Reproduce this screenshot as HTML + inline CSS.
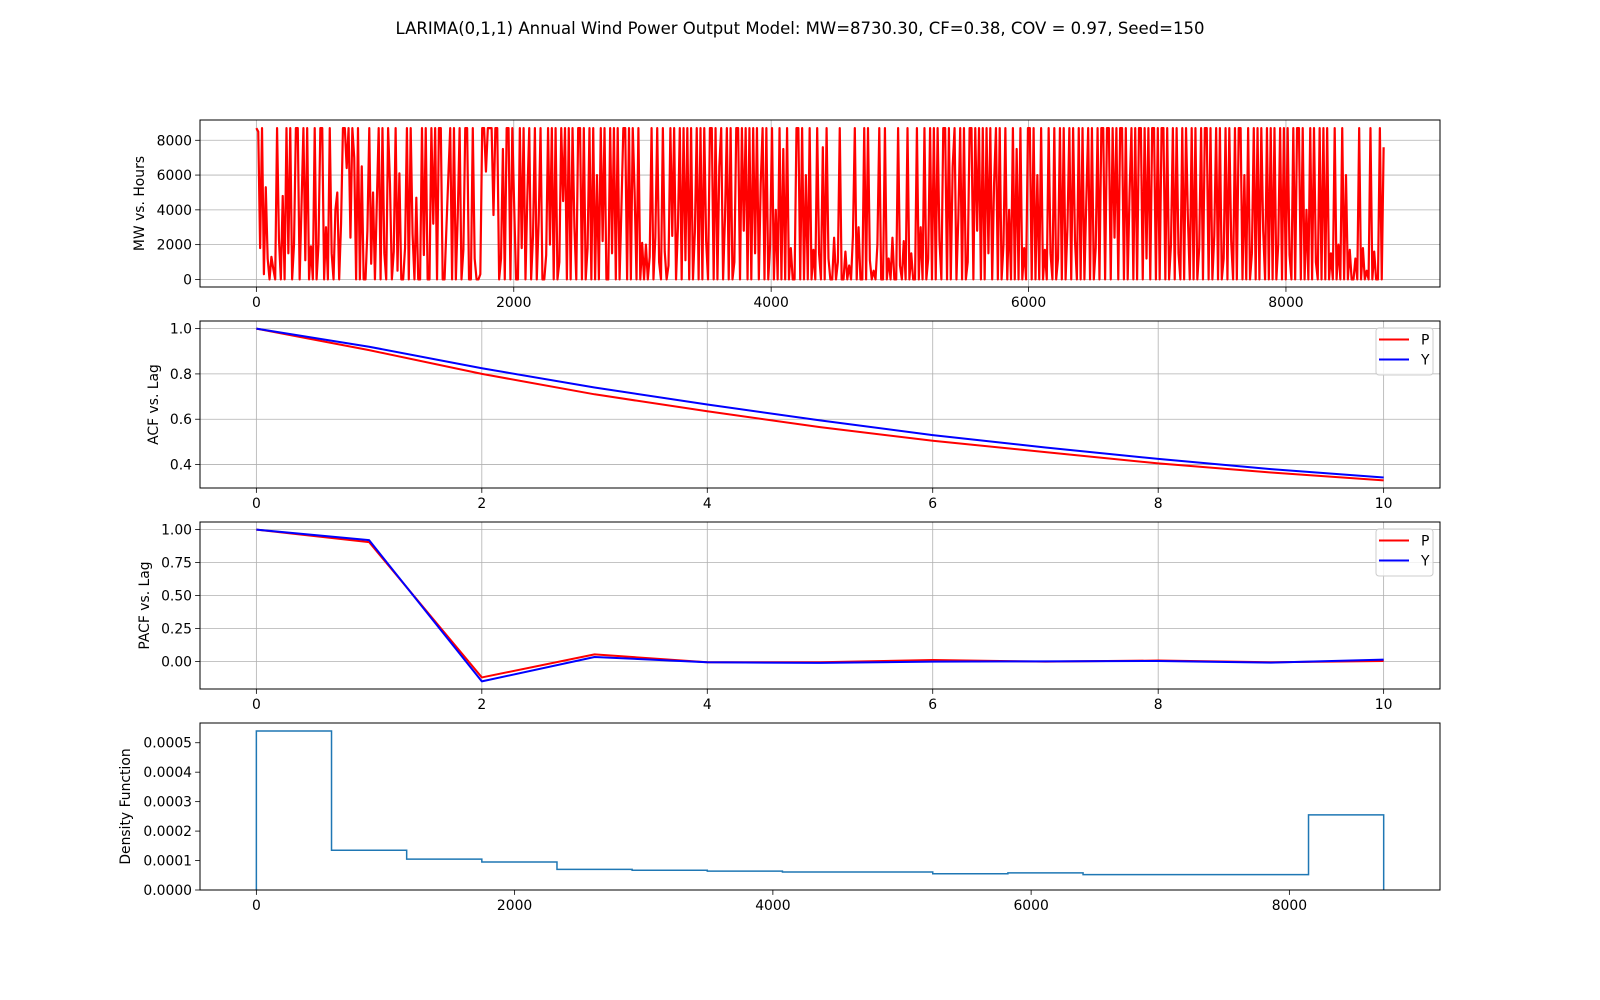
<!DOCTYPE html>
<html><head><meta charset="utf-8"><style>
html,body{margin:0;padding:0;background:#fff;}
svg{display:block;font-family:"DejaVu Sans","Liberation Sans",sans-serif;}
</style></head><body>
<svg id="fig" width="1600" height="1000" viewBox="0 0 1600 1000" xmlns="http://www.w3.org/2000/svg">
<rect width="1600" height="1000" fill="#fff"/>
<text x="800" y="34" text-anchor="middle" font-size="16.5" fill="#000">LARIMA(0,1,1) Annual Wind Power Output Model: MW=8730.30, CF=0.38, COV = 0.97, Seed=150</text>
</svg>
<script>
// ---- data ----
// hourly output, sampled, in units of 100 MW
const mwHundreds = [
87,85,18,87,3,53,12,0,13,6,0,87,23,0,48,0,87,15,87,0,20,87,87,0,43,87,11,87,0,19,
0,87,0,20,87,87,0,30,0,87,15,0,40,50,0,32,87,87,64,87,24,87,70,0,87,0,65,0,0,28,
87,9,50,0,44,87,0,87,15,0,87,55,0,16,87,5,61,0,0,18,87,0,87,26,0,47,0,0,87,14,
87,0,0,87,32,87,0,87,87,0,0,30,59,87,0,87,0,36,87,0,17,87,87,0,0,87,12,0,0,3,
87,87,62,87,87,87,37,87,87,0,12,75,0,87,87,0,87,42,0,0,87,18,87,0,48,87,0,25,87,0,
33,87,0,0,14,87,20,87,0,87,0,10,87,45,87,0,87,0,87,30,0,87,87,0,87,0,18,87,0,87,
0,60,0,87,22,87,0,0,87,15,87,0,87,0,42,87,87,0,87,0,87,50,0,87,0,21,0,20,0,13,
87,0,24,87,10,0,87,16,0,8,87,25,87,0,30,87,0,87,11,87,0,87,0,27,87,0,87,0,87,22,
0,87,87,0,87,0,65,87,0,35,87,0,87,0,10,87,87,0,87,28,87,0,87,0,87,15,87,0,55,87,
0,87,0,20,87,0,40,0,87,0,75,0,87,0,18,0,0,87,87,0,87,0,60,0,87,0,17,0,87,15,
0,76,0,87,12,0,0,24,0,10,87,0,0,16,0,8,0,25,87,0,30,0,0,87,0,87,11,0,5,0,
20,87,0,0,87,0,12,0,24,0,0,87,8,0,22,0,87,0,15,0,0,87,0,30,0,87,0,12,87,0,
87,0,87,22,0,87,87,0,87,0,65,87,0,35,87,0,87,0,10,87,87,0,87,28,87,0,87,0,87,15,
87,0,55,87,0,87,0,20,87,0,40,0,87,0,75,0,87,0,18,0,87,87,0,87,0,60,0,87,0,17,
0,87,15,0,87,0,12,87,0,87,0,30,87,0,87,22,0,87,0,87,0,45,87,0,87,0,18,87,0,87,
87,0,87,87,0,87,24,87,0,87,87,0,87,0,50,87,0,87,0,87,87,0,87,12,87,0,87,87,0,87,
0,87,87,0,87,0,20,87,0,87,15,0,87,0,87,35,0,87,0,87,0,18,87,0,87,87,0,87,0,25,
87,0,87,0,12,87,0,87,22,0,87,0,87,87,0,60,0,87,0,15,87,0,87,0,87,28,0,87,0,87,
0,87,0,20,87,0,87,0,87,14,0,87,0,87,87,0,87,0,40,0,87,0,87,10,0,87,0,87,0,87,
0,15,0,87,0,20,0,87,0,60,0,17,0,0,12,0,87,0,18,0,5,0,87,0,16,0,0,87,0,76];
const lags = [0,1,2,3,4,5,6,7,8,9,10];
const acfP = [1,0.905,0.80,0.71,0.635,0.565,0.505,0.455,0.405,0.365,0.33];
const acfY = [1,0.92,0.825,0.74,0.665,0.595,0.53,0.475,0.425,0.38,0.343];
const pacfP = [1,0.905,-0.12,0.055,-0.005,-0.005,0.012,0.0,0.008,-0.005,0.005];
const pacfY = [1,0.92,-0.15,0.035,-0.005,-0.01,0.0,0.002,0.005,-0.008,0.015];
const histDensity = [0.00054,0.000135,0.000105,0.000095,0.00007,0.000067,0.000064,0.000061,0.000061,0.000055,0.000058,0.000052,0.000052,0.000052,0.000255];
const histMax = 8730.3;
const hoursTotal = 8759;
const mwTicks = [0,2000,4000,6000,8000];
const hourTicks = [0,2000,4000,6000,8000];
const lagTicks = [0,2,4,6,8,10];
const acfTicks = [0.4,0.6,0.8,1.0];
const pacfTicks = [0,0.25,0.5,0.75,1.0];
const densTicks = [0,0.0001,0.0002,0.0003,0.0004,0.0005];

const NS='http://www.w3.org/2000/svg';
const svg=document.getElementById('fig');
function mk(tag,attrs,parent){const e=document.createElementNS(NS,tag);for(const k in attrs)e.setAttribute(k,attrs[k]);(parent||svg).appendChild(e);return e;}
const L=200,R=1440;
function scale(d0,d1,r0,r1){return v=>r0+(v-d0)/(d1-d0)*(r1-r0);}

function panel(name,top,bot,xd,yd,xt,yt,xfmt,yfmt,ylabel,grid,ylx){
  const g=mk('g',{});
  
  
  const sx=scale(xd[0],xd[1],L,R), sy=scale(yd[0],yd[1],bot,top);
  if(grid){
    xt.forEach(v=>{const l=mk('line',{x1:sx(v),x2:sx(v),y1:top,y2:bot,stroke:'#b0b0b0','stroke-width':0.8},g);
      
      });
    yt.forEach(v=>{const l=mk('line',{x1:L,x2:R,y1:sy(v),y2:sy(v),stroke:'#b0b0b0','stroke-width':0.8},g);
      
      });
  }
  xt.forEach(v=>{mk('line',{x1:sx(v),x2:sx(v),y1:bot,y2:bot+4.9,stroke:'#000','stroke-width':0.8},g);
    const t=mk('text',{x:sx(v),y:bot+20,'text-anchor':'middle','font-size':13.9},g);t.textContent=xfmt(v);
    
    });
  yt.forEach(v=>{mk('line',{x1:L-4.9,x2:L,y1:sy(v),y2:sy(v),stroke:'#000','stroke-width':0.8},g);
    const t=mk('text',{x:L-8,y:sy(v)+5,'text-anchor':'end','font-size':13.9},g);t.textContent=yfmt(v);
    
    });
  const yl=mk('text',{x:0,y:0,'text-anchor':'middle','font-size':13.9,transform:`translate(${ylx},${(top+bot)/2}) rotate(-90)`},g);
  yl.textContent=ylabel;
  
  
  return {g,sx,sy,top,bot};
}
function frame(p){const r=mk('rect',{x:L,y:p.top,width:R-L,height:p.bot-p.top,fill:'none',stroke:'#000','stroke-width':1},p.g);
  
  }
function line(p,xs,ys,color,name,w){
  const d=xs.map((x,i)=>(i?'L':'M')+p.sx(x).toFixed(2)+','+p.sy(ys[i]).toFixed(2)).join('');
  const e=mk('path',{d,fill:'none',stroke:color,'stroke-width':w||2,'stroke-linejoin':'round'},p.g);
  
  
}
function legend(p){
  const g=mk('g',{},p.g);
  
  
  mk('rect',{x:1376,y:p.top+7,width:57,height:47,rx:3,fill:'#fff','fill-opacity':0.8,stroke:'#ccc','stroke-width':1},g);
  [['P','red',p.top+18.5],['Y','blue',p.top+38.5]].forEach(([lab,c,y])=>{
    const e=mk('g',{},g);
    
    
    mk('line',{x1:1379,x2:1409,y1:y,y2:y,stroke:c,'stroke-width':2},e);
    const t=mk('text',{x:1421,y:y+5,'font-size':13.9},e);t.textContent=lab;
  });
}
const fmtInt=v=>String(v);
// panel 1
const p1=panel('mw-panel',120,287,[-438,9197],[-436.5,9166.5],hourTicks,mwTicks,fmtInt,fmtInt,'MW vs. Hours',true,144);
const mwValues=mwHundreds.map(v=>v*100);
const hx=mwValues.map((v,i)=>i*hoursTotal/(mwValues.length-1));
line(p1,hx,mwValues,'red','mw-series',2.2);
frame(p1);
// panel 2
const p2=panel('acf-panel',321,488,[-0.5,10.5],[0.2965,1.0335],lagTicks,acfTicks,fmtInt,v=>v.toFixed(1),'ACF vs. Lag',true,158);
line(p2,lags,acfP,'red','acf-p-line');
line(p2,lags,acfY,'blue','acf-y-line');
frame(p2);legend(p2);
// panel 3
const p3=panel('pacf-panel',522,689,[-0.5,10.5],[-0.2075,1.0575],lagTicks,pacfTicks,fmtInt,v=>v.toFixed(2),'PACF vs. Lag',true,149);
line(p3,lags,pacfP,'red','pacf-p-line');
line(p3,lags,pacfY,'blue','pacf-y-line');
frame(p3);legend(p3);
// panel 4
const p4=panel('density-panel',723,890,[-436.5,9166.5],[0,0.000567],hourTicks,densTicks,fmtInt,v=>v.toFixed(4),'Density Function',false,130);
const bw=histMax/histDensity.length;
let d='M'+p4.sx(0)+','+p4.sy(0);
histDensity.forEach((v,i)=>{d+='L'+p4.sx(i*bw).toFixed(2)+','+p4.sy(v).toFixed(2)+'L'+p4.sx((i+1)*bw).toFixed(2)+','+p4.sy(v).toFixed(2);});
d+='L'+p4.sx(histMax)+','+p4.sy(0);
const hp=mk('path',{d,fill:'none',stroke:'#1f77b4','stroke-width':1.5},p4.g);


frame(p4);
</script>
</body></html>
